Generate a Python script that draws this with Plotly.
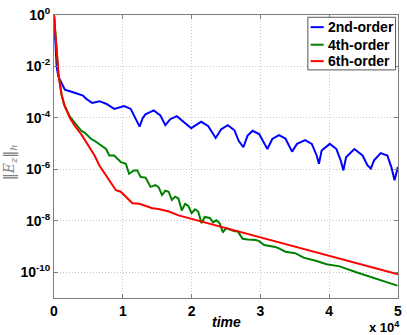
import numpy as np
import plotly.graph_objects as go

# time in units of 1e4, log10 of error
t_2nd = [0, 0.039, 0.062, 0.158, 0.277, 0.373, 0.421, 0.470, 0.556, 0.660, 0.757, 0.876,
         1.019, 1.115, 1.244, 1.290, 1.330, 1.450, 1.546, 1.618, 1.690, 1.785, 1.905, 1.995,
         2.139, 2.240, 2.350, 2.431, 2.527, 2.623, 2.684, 2.752, 2.814, 2.886, 2.982, 3.054,
         3.101, 3.173, 3.269, 3.364, 3.421, 3.460, 3.532, 3.651, 3.747, 3.818, 3.851, 3.890,
         4.009, 4.105, 4.167, 4.206, 4.245, 4.365, 4.485, 4.557, 4.605, 4.652, 4.749, 4.845,
         4.903, 4.950, 4.998]
log_2nd = [0, -2.01, -2.39, -2.9, -3.0, -3.09, -3.13, -3.26, -3.42, -3.35, -3.45, -3.65,
           -3.54, -3.65, -4.34, -4.0, -3.86, -3.71, -3.90, -4.28, -4.05, -3.93, -4.18, -4.40,
           -4.15, -4.31, -4.78, -4.44, -4.28, -4.48, -4.89, -5.14, -4.69, -4.50, -4.63, -4.95,
           -5.21, -4.82, -4.67, -4.80, -5.08, -5.31, -5.01, -4.86, -5.01, -5.46, -5.78, -5.27,
           -5.01, -5.21, -5.65, -6.04, -5.53, -5.21, -5.46, -5.85, -5.97, -5.65, -5.37, -5.46,
           -5.91, -6.42, -5.91]

t_4th = [0, 0.04, 0.065, 0.11, 0.15, 0.23, 0.397, 0.445, 0.541, 0.589, 0.708, 0.757, 0.804,
         0.876, 0.923, 0.972, 1.044, 1.091, 1.163, 1.211, 1.260, 1.331, 1.403, 1.475, 1.522,
         1.570, 1.618, 1.666, 1.713, 1.761, 1.809, 1.857, 1.905, 1.952, 2.000, 2.049, 2.096,
         2.144, 2.192, 2.264, 2.312, 2.359, 2.407, 2.455, 2.503, 2.575, 2.623, 2.670, 2.742,
         2.814, 2.933, 2.982, 3.054, 3.220, 3.269, 3.364, 3.507, 3.627, 3.818, 3.962, 4.153,
         4.393, 4.680, 4.991]
log_4th = [0, -1.55, -2.3, -3.1, -3.5, -3.95, -4.5, -4.57, -4.82, -4.89, -5.14, -5.21, -5.46,
           -5.46, -5.59, -5.72, -5.78, -6.17, -6.04, -6.04, -6.30, -6.32, -6.68, -6.61, -6.70,
           -7.0, -6.83, -6.87, -7.19, -7.06, -7.13, -7.6, -7.34, -7.42, -7.70, -7.55, -7.64,
           -8.09, -7.85, -7.89, -8.06, -7.98, -8.09, -8.45, -8.28, -8.34, -8.41, -8.41, -8.70,
           -8.73, -8.75, -8.79, -8.94, -9.02, -9.07, -9.20, -9.26, -9.43, -9.56, -9.69, -9.77,
           -10.0, -10.26, -10.52]

t_6th = [0, 0.04, 0.065, 0.11, 0.15, 0.23, 0.30, 0.40, 0.49, 0.59, 0.66, 0.76, 0.85, 0.90,
         0.97, 1.04, 1.14, 1.24, 1.33, 1.43, 1.52, 1.67, 1.81, 1.95, 2.5, 3.0, 3.5, 4.0, 4.5, 5.0]
log_6th = [0, -1.55, -2.3, -3.1, -3.5, -4.0, -4.3, -4.65, -5.02, -5.46, -5.85, -6.23, -6.61,
           -6.81, -6.87, -7.06, -7.32, -7.34, -7.42, -7.51, -7.54, -7.64, -7.79, -7.89, -8.28,
           -8.64, -9.0, -9.36, -9.72, -10.08]

series_names = ["2nd-order", "4th-order", "6th-order"]
series_colors = ["#0000ff", "#008000", "#ff0000"]
ytick_exps = [0, -2, -4, -6, -8, -10]
xtick_vals = [0, 1, 2, 3, 4, 5]

FONT = "Liberation Sans, Arial, sans-serif"

fig = go.Figure()
for t, lg, name, col in zip([t_2nd, t_4th, t_6th], [log_2nd, log_4th, log_6th],
                            series_names, series_colors):
    fig.add_trace(go.Scatter(x=t, y=10.0 ** np.array(lg), mode="lines", name=name,
                             line=dict(color=col, width=2), showlegend=False))

axis_common = dict(showline=True, linecolor="#7f7f7f", linewidth=1, mirror="ticks",
                   ticks="inside", ticklen=4, tickcolor="#7f7f7f",
                   showgrid=True, gridcolor="#c8c8c8", griddash="1px,2px", gridwidth=1,
                   zeroline=False,
                   tickfont=dict(family=FONT, size=14, color="black", weight="bold"))

fig.update_xaxes(range=[0, 5], tickvals=xtick_vals, ticktext=[str(v) for v in xtick_vals],
                 **axis_common)
fig.update_yaxes(type="log", range=[-11, 0], tickvals=[10.0 ** e for e in ytick_exps],
                 ticktext=["10<sup>%d</sup>" % e for e in ytick_exps], **axis_common)

# legend drawn manually (MATLAB style)
shapes = [dict(type="rect", xref="paper", yref="paper", x0=0.738, x1=0.993, y0=0.806, y1=0.992,
               line=dict(color="#555555", width=1), fillcolor="white", layer="above")]
annotations = []
rows = [0.957, 0.895, 0.837]
for name, col, ry in zip(series_names, series_colors, rows):
    shapes.append(dict(type="line", xref="paper", yref="paper", x0=0.746, x1=0.784, y0=ry, y1=ry,
                       line=dict(color=col, width=2), layer="above"))
    annotations.append(dict(xref="paper", yref="paper", x=0.790, y=ry, xanchor="left",
                            yanchor="middle", text=name, showarrow=False,
                            font=dict(family=FONT, size=14, color="black", weight="bold")))

annotations.append(dict(xref="paper", yref="paper", x=0.5, y=-0.084, xanchor="center",
                        yanchor="middle", text="<b><i>time</i></b>", showarrow=False,
                        font=dict(family=FONT, size=14, color="black")))
annotations.append(dict(xref="paper", yref="paper", x=1.012, y=-0.102, xanchor="right",
                        yanchor="middle", text="<b>x 10<sup>4</sup></b>", showarrow=False,
                        font=dict(family=FONT, size=13, color="black")))
annotations.append(dict(xref="paper", yref="paper", x=-0.128, y=0.48, xanchor="center",
                        yanchor="middle", textangle=-90,
                        text="‖<i>E</i><sub><i>z</i></sub>‖<sub><i>h</i></sub>",
                        showarrow=False, font=dict(family="DejaVu Serif", size=14, color="#808080")))

fig.update_layout(width=407, height=335, margin=dict(l=54, r=5, t=13, b=37),
                  plot_bgcolor="white", paper_bgcolor="white",
                  shapes=shapes, annotations=annotations)

fig.write_html("out.html", config={"displayModeBar": False},
               post_script="document.body.style.margin='0';document.body.style.overflow='hidden';")
